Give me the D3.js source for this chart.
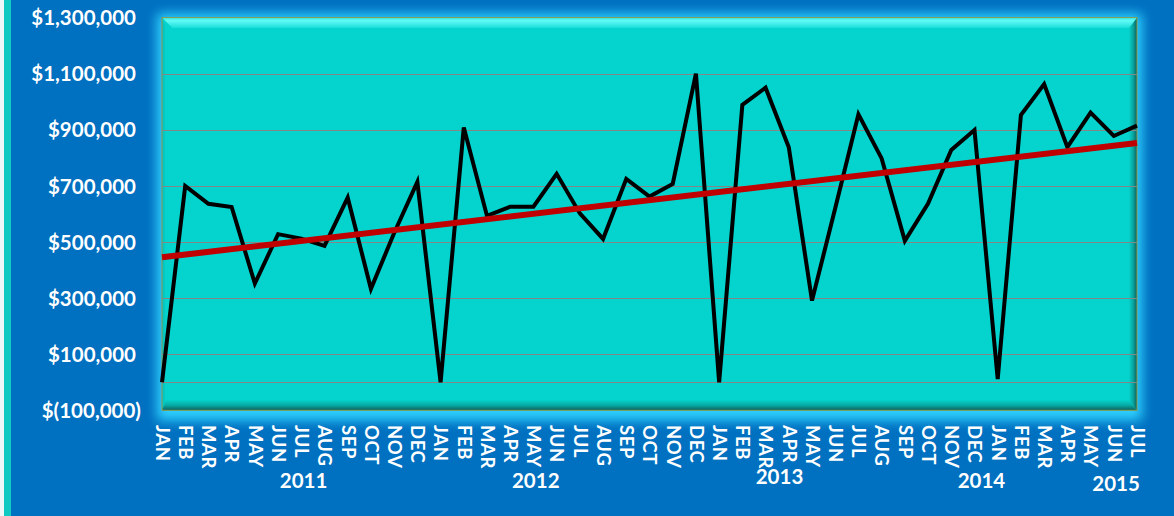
<!DOCTYPE html>
<html>
<head>
<meta charset="utf-8">
<script src="https://cdn.jsdelivr.net/npm/d3@7"></script>
<style>
  html, body { margin: 0; padding: 0; background: #0070c0; }
  svg { display: block; }
</style>
</head>
<body>
<svg id="chart" width="1174" height="516"></svg>
<script>
// ---- data ----
const monthLabels = [
  "JAN","FEB","MAR","APR","MAY","JUN","JUL","AUG","SEP","OCT","NOV","DEC",
  "JAN","FEB","MAR","APR","MAY","JUN","JUL","AUG","SEP","OCT","NOV","DEC",
  "JAN","FEB","MAR","APR","MAY","JUN","JUL","AUG","SEP","OCT","NOV","DEC",
  "JAN","FEB","MAR","APR","MAY","JUN","JUL"
];
const monthlySales = [
  0, 700000, 636000, 625000, 352000, 528000, 512000, 486000, 658000, 333000, 532000, 714000,
  0, 908000, 593000, 626000, 626000, 743000, 602000, 511000, 725000, 662000, 707000, 1100000,
  0, 989000, 1050000, 838000, 291000, 620000, 955000, 798000, 504000, 637000, 828000, 899000,
  11000, 953000, 1063000, 838000, 961000, 878000, 915000
];
const yearLabels = ["2011", "2012", "2013", "2014", "2015"];
const yTickValues = [-100000, 100000, 300000, 500000, 700000, 900000, 1100000, 1300000];

// ---- layout ----
const frame = { left: 162, right: 1137, top: 17.6, bottom: 410.3 };
const labelRight = 136;
const monthTop = 425;
const yearAnchor = [6.1, 16.1, 26.6, 35.3, 41.1];   // position along the month axis
const yearMid = [480.5, 480.5, 477, 481, 484];
const font = "Lato, 'Open Sans', sans-serif";

const svg = d3.select("#chart");
const defs = svg.append("defs");

// soft light-blue halo around the plot panel
defs.append("filter").attr("id", "halo")
  .attr("x", "-10%").attr("y", "-20%").attr("width", "120%").attr("height", "140%")
  .append("feGaussianBlur").attr("stdDeviation", 6);

function grad(id, x1, y1, x2, y2, stops) {
  const g = defs.append("linearGradient").attr("id", id)
    .attr("x1", x1).attr("y1", y1).attr("x2", x2).attr("y2", y2);
  stops.forEach(([o, c]) => g.append("stop").attr("offset", o).attr("stop-color", c));
}
grad("bevTop", 0, 0, 0, 1, [[0, "#33ece7"], [0.3, "#62faf6"], [1, "#18ddd8"]]);
grad("bevBottom", 0, 0, 0, 1, [[0, "#06cfc9"], [0.5, "#07aaa4"], [1, "#0b605c"]]);
grad("bevRight", 0, 0, 1, 0, [[0, "#06d0ca"], [0.5, "#09a7a1"], [1, "#0b5f5b"]]);
grad("bevLeft", 0, 0, 1, 0, [[0, "#04bdb8"], [1, "#05d3cd"]]);

// ---- page edge strips ----
svg.append("rect").attr("x", 0).attr("y", 0).attr("width", 4).attr("height", 516).attr("fill", "#eef8f8");
svg.append("rect").attr("x", 4).attr("y", 0).attr("width", 7).attr("height", 516).attr("fill", "#10c9c2");

// ---- scales ----
const x = d3.scalePoint()
  .domain(d3.range(monthlySales.length))
  .range([frame.left, frame.right]);
const xAt = t => frame.left + t * x.step();
const y = d3.scaleLinear()
  .domain([yTickValues[0], yTickValues[yTickValues.length - 1]])
  .range([frame.bottom, frame.top]);

// ---- plot panel ----
const fw = frame.right - frame.left, fh = frame.bottom - frame.top;
svg.append("rect")
  .attr("x", frame.left - 5).attr("y", frame.top - 4)
  .attr("width", fw + 10).attr("height", fh + 14)
  .attr("fill", "#2fd2ff").attr("filter", "url(#halo)");
svg.append("rect")
  .attr("x", frame.left).attr("y", frame.top)
  .attr("width", fw).attr("height", fh)
  .attr("fill", "#05d3cd");

const L = frame.left, R = frame.right, T = frame.top, B = frame.bottom;
const bt = 10.5, bb = 10, br = 8, bl = 4;
const poly = (pts, fill) => svg.append("polygon")
  .attr("points", pts.map(p => p.join(",")).join(" ")).attr("fill", fill);
poly([[L, T], [L + bl, T + bt], [L + bl, B - bb], [L, B]], "url(#bevLeft)");
poly([[R, T], [R, B], [R - br, B - bb], [R - br, T + bt]], "url(#bevRight)");
poly([[L, B], [R, B], [R - br, B - bb], [L + bl, B - bb]], "url(#bevBottom)");
poly([[L, T], [R, T], [R - br, T + bt], [L + bl * 2.6, T + bt]], "url(#bevTop)");
svg.append("rect")
  .attr("x", L).attr("y", T).attr("width", fw).attr("height", fh)
  .attr("fill", "none").attr("stroke", "#8e9a4c").attr("stroke-width", 1);

// ---- gridlines and zero line ----
const gridValues = yTickValues.slice(1, -1).concat([0]);
svg.append("g").selectAll("line").data(gridValues).join("line")
  .attr("x1", L).attr("x2", R)
  .attr("y1", d => Math.round(y(d)) + 0.5).attr("y2", d => Math.round(y(d)) + 0.5)
  .attr("stroke", "#868686").attr("stroke-width", 1);

// ---- value axis labels (accounting style) ----
const num = d3.format(",");
const money = v => v < 0 ? "$(" + num(-v) + ")" : "$" + num(v);
const yAxis = svg.append("g")
  .attr("transform", `translate(${labelRight},0)`)
  .call(d3.axisLeft(y).tickValues(yTickValues).tickSize(0).tickPadding(0).tickFormat(money));
yAxis.select(".domain").remove();
yAxis.selectAll("text")
  .attr("x", d => d < 0 ? 5 : 0)
  .attr("dy", "0.35em")
  .attr("fill", "#ffffff")
  .style("font-family", font).style("font-weight", "bold").style("font-size", "20.5px");

// ---- month axis labels ----
const xAxis = svg.append("g")
  .attr("transform", `translate(0,${monthTop})`)
  .call(d3.axisBottom(x).tickSize(0).tickPadding(0).tickFormat(i => monthLabels[i]));
xAxis.select(".domain").remove();
xAxis.selectAll("text")
  .attr("x", 0).attr("y", 0).attr("dy", "0.36em")
  .attr("text-anchor", "start")
  .attr("transform", "rotate(90)")
  .attr("fill", "#ffffff")
  .style("font-family", font).style("font-weight", "bold").style("font-size", "18.5px")
  .style("letter-spacing", "0.6px");

// ---- year labels ----
svg.append("g").selectAll("text").data(yearLabels).join("text")
  .attr("x", (d, i) => xAt(yearAnchor[i]))
  .attr("y", (d, i) => yearMid[i])
  .attr("dy", "0.36em")
  .attr("text-anchor", "middle")
  .attr("fill", "#ffffff")
  .style("font-family", font).style("font-weight", "bold").style("font-size", "20.5px")
  .text(d => d);

// ---- sales line ----
const line = d3.line().x((d, i) => x(i)).y(d => y(d));
svg.append("path")
  .datum(monthlySales)
  .attr("d", line)
  .attr("fill", "none")
  .attr("stroke", "#000000")
  .attr("stroke-width", 4)
  .attr("stroke-linejoin", "miter")
  .attr("stroke-miterlimit", 4);

// ---- linear trend (least squares) ----
const n = monthlySales.length;
const mx = d3.mean(d3.range(n)), my = d3.mean(monthlySales);
const slope = d3.sum(monthlySales, (v, i) => (i - mx) * (v - my)) /
              d3.sum(d3.range(n), i => (i - mx) * (i - mx));
const intercept = my - slope * mx;
const trend = [0, n - 1].map(i => [x(i), y(intercept + slope * i)]);
svg.append("path")
  .attr("d", d3.line()(trend))
  .attr("fill", "none")
  .attr("stroke", "#c00000")
  .attr("stroke-width", 6);
</script>
</body>
</html>
